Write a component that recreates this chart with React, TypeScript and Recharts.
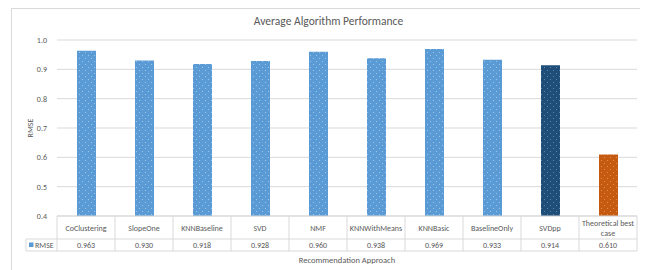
import React from 'react';
import { BarChart, Bar, XAxis, YAxis, CartesianGrid, Cell } from 'recharts';

const categories = [
  'CoClustering',
  'SlopeOne',
  'KNNBaseline',
  'SVD',
  'NMF',
  'KNNWithMeans',
  'KNNBasic',
  'BaselineOnly',
  'SVDpp',
  'Theoretical best case',
];
const rmse = [0.963, 0.93, 0.918, 0.928, 0.96, 0.938, 0.969, 0.933, 0.914, 0.61];
const yTicks = [0.4, 0.5, 0.6, 0.7, 0.8, 0.9, 1.0];

const data = categories.map((name, i) => ({ name, rmse: rmse[i] }));

const TEXT = '#595959';
const LINE = '#d9d9d9';
const FONT = "Carlito, 'Liberation Sans', Arial, sans-serif";
const BAND = 58; // plot width / category count
const patternFor = (i: number) => (i === 8 ? 'url(#dotDark)' : i === 9 ? 'url(#dotOrange)' : 'url(#dotBlue)');

const TableTick = (props: any) => {
  const { x, y, payload, index } = props;
  const left = x - BAND / 2;
  const right = x + BAND / 2;
  const name: string = payload.value;
  const i = index ?? categories.indexOf(name);
  const words = name.split(' ');
  const lines = name.length > 14 ? [words.slice(0, 2).join(' '), words.slice(2).join(' ')] : [name];
  return (
    <g fontFamily={FONT} fontSize={8} fill={TEXT}>
      <line x1={left} y1={y} x2={left} y2={y + 35} stroke={LINE} />
      {i === categories.length - 1 && <line x1={right} y1={y} x2={right} y2={y + 35} stroke={LINE} />}
      <line x1={left} y1={y + 23} x2={right} y2={y + 23} stroke={LINE} />
      <line x1={left} y1={y + 35} x2={right} y2={y + 35} stroke={LINE} />
      {lines.length === 1 ? (
        <text x={x} y={y + 14.5} textAnchor="middle">{name}</text>
      ) : (
        lines.map((l, k) => (
          <text key={k} x={x} y={y + 9.5 + k * 10} textAnchor="middle">{l}</text>
        ))
      )}
      <text x={x} y={y + 31.5} textAnchor="middle">{rmse[i].toFixed(3)}</text>
      {i === 0 && (
        <g>
          <line x1={left - 31} y1={y + 23} x2={left} y2={y + 23} stroke={LINE} />
          <line x1={left - 31} y1={y + 35} x2={left} y2={y + 35} stroke={LINE} />
          <line x1={left - 31} y1={y + 23} x2={left - 31} y2={y + 35} stroke={LINE} />
          <rect x={left - 28} y={y + 26.5} width={4.5} height={4.5} fill="#5B9BD5" />
          <text x={left - 22} y={y + 31.5}>RMSE</text>
        </g>
      )}
    </g>
  );
};

const Pattern = ({ id, base, dot }: { id: string; base: string; dot: string }) => (
  <pattern id={id} width={6} height={6} patternUnits="userSpaceOnUse">
    <rect width={6} height={6} fill={base} />
    <rect x={1} y={1} width={1} height={1} fill={dot} />
    <rect x={4} y={4} width={1} height={1} fill={dot} />
  </pattern>
);

export default function App() {
  return (
    <div
      style={{
        position: 'relative',
        marginLeft: 3,
        width: 633,
        height: 270,
        border: `1px solid ${LINE}`,
        background: '#fff',
        boxSizing: 'border-box',
      }}
    >
      <div
        style={{
          position: 'absolute',
          top: 5,
          left: 0,
          width: 633,
          textAlign: 'center',
          fontFamily: FONT,
          fontSize: 11.5,
          color: TEXT,
        }}
      >
        Average Algorithm Performance
      </div>
      <BarChart width={631} height={258} data={data} margin={{ top: 31, right: 6, bottom: 0, left: 0 }}>
        <defs>
          <Pattern id="dotBlue" base="#5B9BD5" dot="#9dc3e6" />
          <Pattern id="dotDark" base="#1F4E79" dot="#5a82ab" />
          <Pattern id="dotOrange" base="#C55A11" dot="#e08b52" />
        </defs>
        <CartesianGrid vertical={false} stroke={LINE} />
        <XAxis
          dataKey="name"
          height={51}
          interval={0}
          tickLine={false}
          tickSize={0}
          tickMargin={0}
          axisLine={{ stroke: LINE }}
          tick={<TableTick />}
          label={{
            value: 'Recommendation Approach',
            position: 'insideBottom',
            offset: 4,
            fill: TEXT,
            fontSize: 8.5,
            fontFamily: FONT,
          }}
        />
        <YAxis
          width={45}
          domain={[0.4, 1.0]}
          ticks={yTicks}
          tickFormatter={(v: number) => v.toFixed(1)}
          axisLine={false}
          tickLine={false}
          tickMargin={4}
          tick={{ fill: TEXT, fontSize: 8, fontFamily: FONT }}
          label={{
            value: 'RMSE',
            angle: -90,
            position: 'insideLeft',
            offset: 18,
            fill: TEXT,
            fontSize: 8,
            fontFamily: FONT,
            style: { textAnchor: 'middle' },
          }}
        />
        <Bar dataKey="rmse" barSize={19} isAnimationActive={false}>
          {data.map((d, i) => (
            <Cell key={d.name} fill={patternFor(i)} />
          ))}
        </Bar>
      </BarChart>
    </div>
  );
}
